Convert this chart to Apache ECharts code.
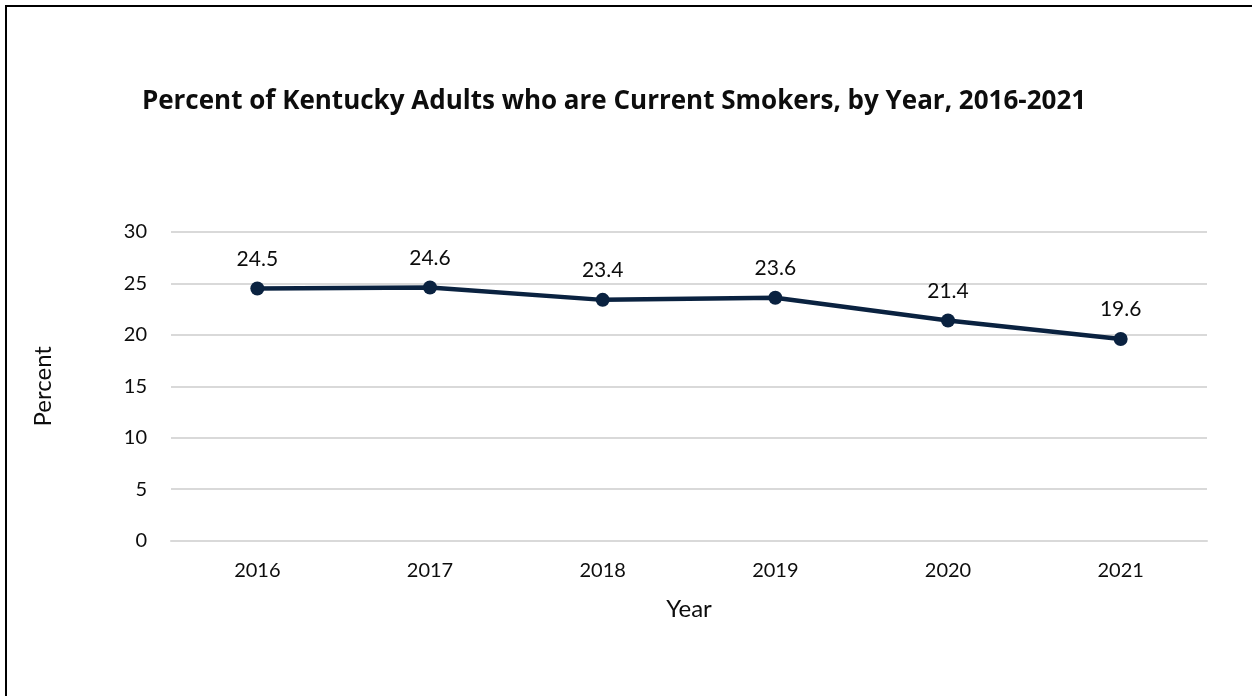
<!DOCTYPE html>
<html>
<head>
<meta charset="utf-8">
<script src="https://cdn.jsdelivr.net/npm/echarts@6/dist/echarts.min.js"></script>
<style>
  html, body { margin: 0; padding: 0; background: #fff; }
  #chart { position: absolute; left: 0; top: 0; width: 1252px; height: 696px; }
  #frame { position: absolute; left: 5px; top: 5px; width: 1260px; height: 700px;
           border-left: 2px solid #000; border-top: 2px solid #000; pointer-events: none; }
</style>
</head>
<body>
<div id="chart"></div>
<div id="frame"></div>
<script>
const titleText = 'Percent of Kentucky Adults who are Current Smokers, by Year, 2016-2021';
const years = ['2016', '2017', '2018', '2019', '2020', '2021'];
const smokerPercent = [24.5, 24.6, 23.4, 23.6, 21.4, 19.6];
const yAxisName = 'Percent';
const xAxisName = 'Year';

const FONT = 'Lato';
const TEXT = '#0d0d0d';

const chart = echarts.init(document.getElementById('chart'), null, { renderer: 'canvas' });
chart.setOption({
  animation: false,
  backgroundColor: '#ffffff',
  title: {
    text: titleText,
    left: 609,
    top: 84,
    textAlign: 'center',
    textStyle: { fontFamily: 'Open Sans', fontWeight: 'bold', fontSize: 26, color: TEXT }
  },
  grid: { left: 171, right: 45, top: 232, bottom: 155.5, containLabel: false },
  xAxis: {
    type: 'category',
    data: years,
    boundaryGap: true,
    name: xAxisName,
    nameLocation: 'middle',
    nameGap: 57,
    nameTextStyle: { fontFamily: FONT, fontSize: 24, color: TEXT },
    axisLine: { show: true, lineStyle: { color: '#d9d9d9', width: 2 } },
    axisTick: { show: false },
    axisLabel: { fontFamily: FONT, fontSize: 20, color: TEXT, margin: 20 },
    splitLine: { show: false }
  },
  yAxis: {
    type: 'value',
    min: 0,
    max: 30,
    interval: 5,
    name: yAxisName,
    nameLocation: 'middle',
    nameGap: 116,
    nameRotate: 90,
    nameTextStyle: { fontFamily: FONT, fontSize: 24, color: TEXT },
    axisLine: { show: false },
    axisTick: { show: false },
    axisLabel: { fontFamily: FONT, fontSize: 20, color: TEXT, margin: 24 },
    splitLine: { show: true, lineStyle: { color: '#d9d9d9', width: 2 } }
  },
  series: [{
    type: 'line',
    data: smokerPercent,
    symbol: 'circle',
    symbolSize: 14,
    lineStyle: { color: '#0a2240', width: 4.5 },
    itemStyle: { color: '#0a2240' },
    label: {
      show: true,
      position: 'top',
      distance: 12,
      fontFamily: FONT,
      fontSize: 21,
      color: TEXT
    }
  }]
});
</script>
</body>
</html>
